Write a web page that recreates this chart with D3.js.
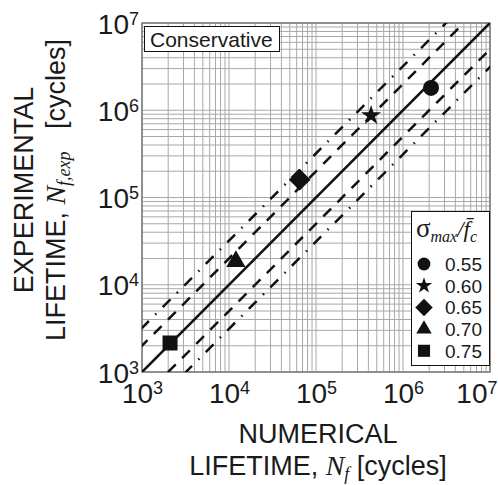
<!DOCTYPE html>
<html>
<head>
<meta charset="utf-8">
<script src="https://cdn.jsdelivr.net/npm/d3@7"></script>
<style>
  body { margin: 0; background: #fff; }
  text { font-family: "Liberation Sans", Arial, sans-serif; fill: #1a1a1a; }
  .math { font-family: "Liberation Serif", "Times New Roman", serif; font-style: italic; }
</style>
</head>
<body>
<div id="chart"></div>
<script>
// Data
var ratios = ["0.55", "0.60", "0.65", "0.70", "0.75"];
var numericalLife = [2.1e6, 4.3e5, 6.5e4, 1.2e4, 2.1e3];
var experimentalLife = [1.8e6, 8.7e5, 1.6e5, 1.85e4, 2.15e3];
var symbolNames = ["circle", "star", "diamond", "triangle", "square"];
var decades = [3, 4, 5, 6, 7];
var bandFactors = [2, 3.2];

var width = 498, height = 485;
var margin = { left: 142, right: 8, top: 23, bottom: 113 };
var plotW = width - margin.left - margin.right,
    plotH = height - margin.top - margin.bottom;

var svg = d3.select("#chart").append("svg")
    .attr("width", width)
    .attr("height", height);

var x = d3.scaleLog().domain([1e3, 1e7]).range([0, plotW]);
var y = d3.scaleLog().domain([1e3, 1e7]).range([plotH, 0]);

var g = svg.append("g")
    .attr("transform", "translate(" + margin.left + "," + margin.top + ")");

// grid at every minor value
var gridVals = [];
decades.slice(0, -1).forEach(function(d) {
    for (var k = 1; k < 10; k++) gridVals.push(k * Math.pow(10, d));
});
gridVals.push(1e7);

g.append("g").selectAll("line.vg")
    .data(gridVals).enter().append("line")
    .attr("x1", function(d) { return x(d); })
    .attr("x2", function(d) { return x(d); })
    .attr("y1", 0).attr("y2", plotH)
    .attr("stroke", "#a8a8a8").attr("stroke-width", 1);

g.append("g").selectAll("line.hg")
    .data(gridVals).enter().append("line")
    .attr("y1", function(d) { return y(d); })
    .attr("y2", function(d) { return y(d); })
    .attr("x1", 0).attr("x2", plotW)
    .attr("stroke", "#a8a8a8").attr("stroke-width", 1);

// frame
g.append("rect")
    .attr("width", plotW).attr("height", plotH)
    .attr("fill", "none").attr("stroke", "#7a7a7a").attr("stroke-width", 1.5);

// clip for diagonal lines
svg.append("clipPath").attr("id", "clip")
    .append("rect").attr("width", plotW).attr("height", plotH);

var diag = d3.line()
    .x(function(d) { return x(d[0]); })
    .y(function(d) { return y(d[1]); });

var lines = g.append("g").attr("clip-path", "url(#clip)");

function bandLine(f, dash) {
    lines.append("path")
        .datum([[1e3 / 10, 1e3 / 10 * f], [1e7 * 10, 1e7 * 10 * f]])
        .attr("d", diag)
        .attr("fill", "none")
        .attr("stroke", "#111")
        .attr("stroke-width", 2.5)
        .attr("stroke-dasharray", dash);
}

// inner band dashed, outer band dash-dot
bandFactors.forEach(function(f, i) {
    var dash = i === 0 ? "11,9" : "11,9,1.5,9";
    bandLine(f, dash);
    bandLine(1 / f, dash);
});

// 1:1 line
lines.append("path")
    .datum([[1e3, 1e3], [1e7, 1e7]])
    .attr("d", diag)
    .attr("fill", "none")
    .attr("stroke", "#111")
    .attr("stroke-width", 2.6);

// symbol helper
function symbolPath(name, scale) {
    var types = { circle: d3.symbolCircle, star: d3.symbolStar, diamond: d3.symbolSquare,
                  triangle: d3.symbolTriangle, square: d3.symbolSquare };
    var sizes = { circle: 200, star: 125, diamond: 235, triangle: 160, square: 225 };
    return d3.symbol().type(types[name]).size(sizes[name] * scale)();
}

var points = ratios.map(function(r, i) {
    return { r: r, nf: numericalLife[i], ne: experimentalLife[i], s: symbolNames[i] };
});

g.append("g").selectAll("path")
    .data(points).enter().append("path")
    .attr("d", function(d) { return symbolPath(d.s, 1); })
    .attr("transform", function(d) {
        return "translate(" + x(d.nf) + "," + y(d.ne) + ")" + (d.s === "diamond" ? " rotate(45)" : "");
    })
    .attr("fill", "#111");

// axes with superscript labels
var xAxis = d3.axisBottom(x).tickValues(decades.map(function(d) { return Math.pow(10, d); }))
    .tickSize(0).tickFormat("");
var yAxis = d3.axisLeft(y).tickValues(decades.map(function(d) { return Math.pow(10, d); }))
    .tickSize(0).tickFormat("");

var gx = g.append("g").attr("transform", "translate(0," + plotH + ")").call(xAxis);
var gy = g.append("g").call(yAxis);
gx.select(".domain").remove();
gy.select(".domain").remove();

function powLabel(sel) {
    sel.each(function(d) {
        var t = d3.select(this).text("").attr("fill", "#1a1a1a").style("font-size", "28px");
        t.append("tspan").text("10");
        t.append("tspan").text(Math.round(Math.log10(d)))
            .style("font-size", "18px").attr("dy", -9);
    });
}

gx.selectAll(".tick text")
    .attr("y", 31).attr("dy", 0)
    .attr("text-anchor", "middle")
    .call(powLabel);

// last x label would run off the page, pull it in
gx.selectAll(".tick text").filter(function(d) { return d === 1e7; })
    .attr("text-anchor", "end").attr("x", width - margin.left - plotW - 1);

gy.selectAll(".tick text")
    .attr("x", -3).attr("dy", 10)
    .attr("text-anchor", "end")
    .call(powLabel);

// x axis title
var xt = svg.append("g").attr("transform", "translate(" + (margin.left + plotW / 2 + 2) + ",0)");
xt.append("text").attr("y", 443).attr("text-anchor", "middle")
    .style("font-size", "27px").text("NUMERICAL");
var xt2 = xt.append("text").attr("y", 475).attr("text-anchor", "middle").style("font-size", "27px");
xt2.append("tspan").text("LIFETIME, ");
xt2.append("tspan").attr("class", "math").style("font-size", "28px").text("N");
xt2.append("tspan").attr("class", "math").style("font-size", "18px").attr("dy", 5).text("f");
xt2.append("tspan").attr("dy", -5).text(" [cycles]");

// y axis title
var yt = svg.append("g").attr("transform", "translate(0,190) rotate(-90)");
yt.append("text").attr("y", 33).attr("text-anchor", "middle")
    .style("font-size", "27px").text("EXPERIMENTAL");
var yt2 = yt.append("text").attr("y", 65).attr("text-anchor", "middle").style("font-size", "27px");
yt2.append("tspan").text("LIFETIME, ");
yt2.append("tspan").attr("class", "math").style("font-size", "28px").text("N");
yt2.append("tspan").attr("class", "math").style("font-size", "18px").attr("dy", 5).text("f,exp");
yt2.append("tspan").attr("dy", -5).text("\u00a0\u00a0\u00a0[cycles]");

// Conservative label
svg.append("rect")
    .attr("x", 144.5).attr("y", 26.5).attr("width", 135).attr("height", 25)
    .attr("fill", "#fff").attr("stroke", "#111").attr("stroke-width", 1);
svg.append("text").attr("x", 150).attr("y", 46.5)
    .style("font-size", "21px").text("Conservative");

// legend
var legend = svg.append("g").attr("transform", "translate(411,211)");
legend.append("rect")
    .attr("x", 0.5).attr("y", 0.5).attr("width", 78).attr("height", 154)
    .attr("fill", "#fff").attr("stroke", "#111").attr("stroke-width", 1);

var lt = legend.append("text").attr("x", 5).attr("y", 26).attr("class", "math");
lt.append("tspan").style("font-style", "normal").style("font-size", "27px").text("\u03c3");
lt.append("tspan").style("font-size", "16px").attr("dy", 5).text("max");
lt.append("tspan").style("font-size", "23px").attr("dy", -5).text("/");
lt.append("tspan").style("font-size", "23px").text("f\u0304");
lt.append("tspan").style("font-size", "16px").attr("dy", 5).text("c");

var items = legend.selectAll("g.item")
    .data(points).enter().append("g")
    .attr("transform", function(d, i) { return "translate(0," + (53 + i * 21.7) + ")"; });

items.append("path")
    .attr("d", function(d) { return symbolPath(d.s, 0.65); })
    .attr("transform", function(d) { return "translate(13,0)" + (d.s === "diamond" ? " rotate(45)" : ""); })
    .attr("fill", "#111");

items.append("text")
    .attr("x", 34).attr("y", 7)
    .style("font-size", "19px")
    .text(function(d) { return d.r; });
</script>
</body>
</html>
